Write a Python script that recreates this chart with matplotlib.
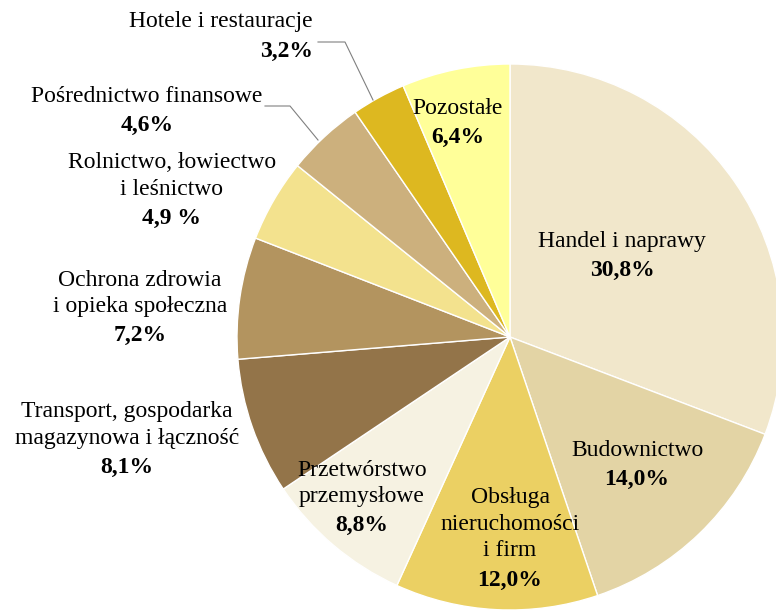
import matplotlib.pyplot as plt

labels = ["Handel i naprawy", "Budownictwo", "Obsługa\nnieruchomości\ni firm",
          "Przetwórstwo\nprzemysłowe", "Transport, gospodarka\nmagazynowa i łączność",
          "Ochrona zdrowia\ni opieka społeczna", "Rolnictwo, łowiectwo\ni leśnictwo",
          "Pośrednictwo finansowe", "Hotele i restauracje", "Pozostałe"]
values = [30.8, 14.0, 12.0, 8.8, 8.1, 7.2, 4.9, 4.6, 3.2, 6.4]
pct_text = ["30,8%", "14,0%", "12,0%", "8,8%", "8,1%", "7,2%", "4,9 %", "4,6%", "3,2%", "6,4%"]
colors = ["#F1E7CB", "#E3D4A5", "#EBD063", "#F6F2E2", "#937449",
          "#B3945F", "#F3E28E", "#CCB07D", "#DDB820", "#FFFF99"]

# label anchor (pixel coords of top line centre / right edge), alignment
label_pos = [(622, 241, "center"), (637, 450, "center"), (510, 498, "center"),
             (362, 470, "center"), (127, 412, "center"), (140, 280, "center"),
             (172, 163, "center"), (147, 96, "center"), (313, 22, "right"),
             (458, 108, "center")]

W, H = 776, 610
plt.rcParams["font.family"] = ["Liberation Serif", "DejaVu Serif"]

fig = plt.figure(figsize=(W / 100, H / 100), dpi=100)
cx, cy, r = 510, 337, 273
ax = fig.add_axes([(cx - r) / W, (H - cy - r) / H, 2 * r / W, 2 * r / H])
ax.pie(values, colors=colors, startangle=90, counterclock=False,
       wedgeprops=dict(edgecolor="white", linewidth=1))
ax.set_xlim(-1, 1)
ax.set_ylim(-1, 1)
ax.set_aspect("auto")
ax.axis("off")

fs = 17
lh = 26.5
for lab, pct, (x, y, ha) in zip(labels, pct_text, label_pos):
    lines = lab.split("\n")
    for i, line in enumerate(lines):
        fig.text(x / W, 1 - (y + i * lh) / H, line, ha=ha, va="center", fontsize=fs)
    fig.text(x / W, 1 - (y + len(lines) * lh + 2.5) / H, pct, ha=ha, va="center",
             fontsize=fs, fontweight="bold")

# leader lines
fig.add_artist(plt.Line2D([318 / W, 345 / W, 373 / W],
                          [1 - 42 / H, 1 - 42 / H, 1 - 100 / H],
                          color="#808080", linewidth=0.8))
fig.add_artist(plt.Line2D([265 / W, 290 / W, 318 / W],
                          [1 - 106 / H, 1 - 106 / H, 1 - 140 / H],
                          color="#808080", linewidth=0.8))

fig.savefig("out.png", dpi=100)
